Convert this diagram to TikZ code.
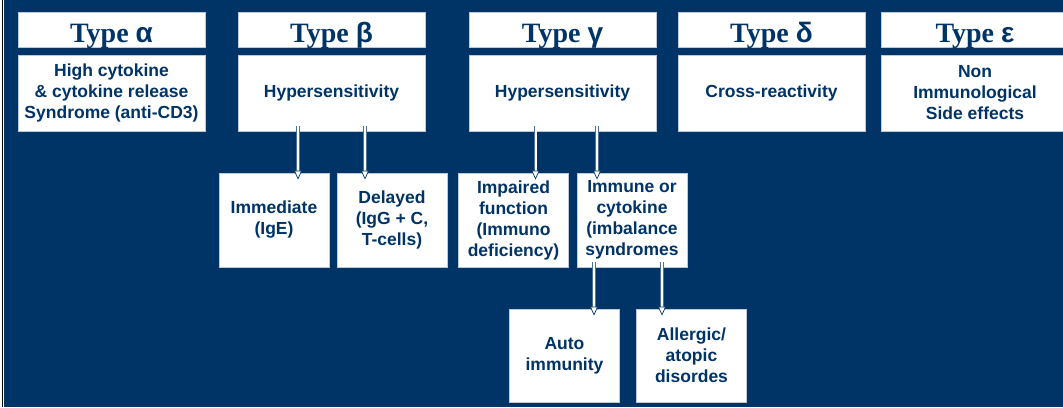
\documentclass[tikz,border=0pt]{standalone}
\usepackage{fontspec}
\setmainfont{Liberation Serif}
\setsansfont{Liberation Sans}
\usetikzlibrary{arrows.meta,positioning}
\definecolor{navy}{RGB}{0,51,102}
\definecolor{boxline}{RGB}{190,200,215}
\newcommand{\gk}[1]{{\sffamily #1}}
\tikzset{
  box/.style={draw=boxline,fill=white,line width=0.8pt,inner sep=0pt,align=center,text=navy},
  typebox/.style={box,minimum width=187pt,minimum height=35pt,text height=26pt,text depth=0pt,
    font=\bfseries\fontsize{28}{30}\selectfont},
  mainbox/.style={box,minimum width=187pt,minimum height=76pt,
    font=\sffamily\bfseries\fontsize{17.5}{21}\selectfont},
  subbox/.style={box,minimum width=110pt,minimum height=94pt,
    font=\sffamily\bfseries\fontsize{17.5}{21}\selectfont},
  branch/.style={draw=white,line width=2pt,
    -{Triangle[width=8pt,length=9pt,fill=white,color=navy,line width=0.7pt]},
    preaction={draw=navy!70,line width=3.4pt,-,shorten >=1pt},
    shorten <=-5pt,shorten >=-7pt}
}

\begin{document}
\begin{tikzpicture}[x=1pt,y=1pt]
  \clip (0,0) rectangle (1063,407);
  \fill[navy] (0,0) rectangle (1063,407);
  \fill[white] (0,0) rectangle (4,407);
  \draw[black,line width=0.8pt] (2,0) -- (2,407);

  % types
  \node[typebox] (ta) at (111.5,377) {Type \gk{α}};
  \node[typebox] (tb) at (331.5,377) {Type \gk{β}};
  \node[typebox] (tg) at (562.5,377) {Type \gk{γ}};
  \node[typebox] (td) at (771.5,377) {Type \gk{δ}};
  \node[typebox] (te) at (975,377) {Type \gk{ε}};

  \node[mainbox] (ma) at (111.5,314) {High cytokine\\\& cytokine release\\Syndrome (anti-CD3)};
  \node[mainbox] (mb) at (331.5,314) {Hypersensitivity};
  \node[mainbox] (mg) at (562.5,314) {Hypersensitivity};
  \node[mainbox] (md) at (771.5,314) {Cross-reactivity};
  \node[mainbox] (me) at (975,314) {Non\\Immunological\\Side effects};

  % second level
  \node[subbox] (immed) at (274,187) {Immediate\\(IgE)};
  \node[subbox] (delay) at (392,187) {Delayed\\(IgG + C,\\T-cells)};
  \node[subbox] (impair) at (513.5,187) {Impaired\\function\\(Immuno\\deficiency)};
  \node[subbox] (imbal) at (632,187) {Immune or\\cytokine\\(imbalance\\syndromes};

  % third level
  \node[subbox,minimum height=93pt] (auto) at (564.5,51.5) {Auto\\immunity};
  \node[subbox,minimum height=93pt] (allerg) at (691.5,51.5) {Allergic/\\atopic\\disordes};

  \draw[branch] ([xshift=-33.5pt]mb.south) -- ([xshift=-33.5pt]mb.south |- immed.north);
  \draw[branch] ([xshift=33.5pt]mb.south) -- ([xshift=33.5pt]mb.south |- delay.north);
  \draw[branch] ([xshift=-27pt]mg.south) -- ([xshift=-27pt]mg.south |- impair.north);
  \draw[branch] ([xshift=34.5pt]mg.south) -- ([xshift=34.5pt]mg.south |- imbal.north);
  \draw[branch] ([xshift=-38pt]imbal.south) -- ([xshift=-38pt]imbal.south |- auto.north);
  \draw[branch] ([xshift=30pt]imbal.south) -- ([xshift=30pt]imbal.south |- allerg.north);
\end{tikzpicture}
\end{document}
